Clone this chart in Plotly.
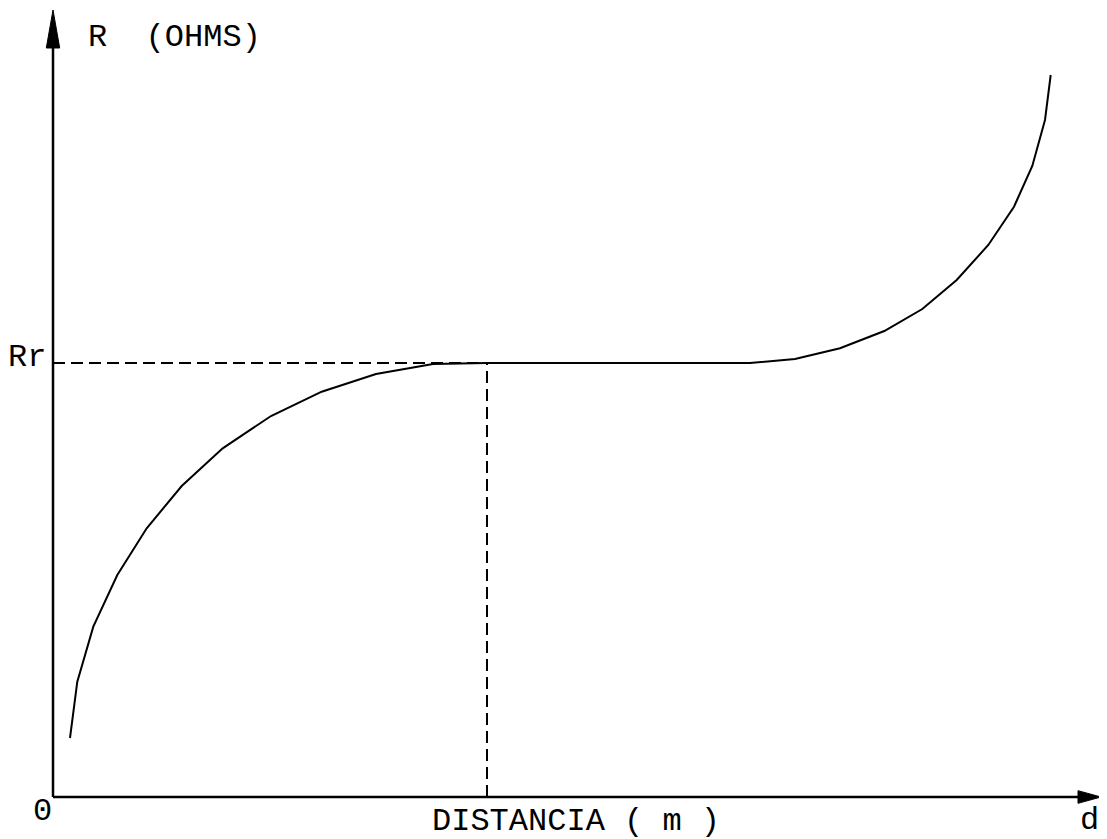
import plotly.graph_objects as go

# ---- data (d in arbitrary distance units, R in arbitrary ohm units) ----
distance = [1.7, 2.43, 4.03, 6.43, 9.37, 12.87, 16.97, 21.8, 26.87, 32.3, 38.0, 43.4,
            69.7, 74.2, 78.7, 83.13, 86.93, 90.37, 93.53, 96.1, 97.93, 99.2, 99.77]
resistance = [5.9, 11.53, 17.03, 22.2, 26.87, 31.1, 34.87, 38.1, 40.53, 42.3, 43.3, 43.4,
              43.4, 43.8, 44.87, 46.6, 48.8, 51.7, 55.2, 59.03, 63.1, 67.7, 72.2]
rr_value = 43.4          # Rr level
rr_distance = 43.4       # distance where the curve reaches Rr

# axis extents
x_axis_end = 102.5
x_arrow_tip = 104.8
y_axis_end = 74.9
y_arrow_tip = 78.7

x_range = [-4.5, 105.4]
y_range = [-4.2, 78.9]

FONT = dict(family="Liberation Mono, DejaVu Sans Mono, monospace", size=32, color="black")

fig = go.Figure()

fig.add_trace(go.Scatter(x=distance, y=resistance, mode="lines",
                         line=dict(color="black", width=2), hoverinfo="skip",
                         showlegend=False))

shapes = [
    # axes
    dict(type="line", x0=0, y0=0, x1=x_axis_end, y1=0, xref="x", yref="y",
         line=dict(color="black", width=2.5)),
    dict(type="line", x0=0, y0=0, x1=0, y1=y_axis_end, xref="x", yref="y",
         line=dict(color="black", width=2.5)),
    # arrow heads
    dict(type="path", xref="x", yref="y",
         path=f"M {-0.67},{y_axis_end} L 0,{y_arrow_tip} L {0.67},{y_axis_end} Z",
         fillcolor="black", line=dict(color="black", width=1)),
    dict(type="path", xref="x", yref="y",
         path=f"M {x_axis_end},{-0.63} L {x_arrow_tip},0 L {x_axis_end},{0.63} Z",
         fillcolor="black", line=dict(color="black", width=1)),
    # dashed guide lines
    dict(type="line", x0=0, y0=rr_value, x1=rr_distance, y1=rr_value, xref="x", yref="y",
         line=dict(color="black", width=2, dash="12px,6px")),
    dict(type="line", x0=rr_distance, y0=0, x1=rr_distance, y1=rr_value, xref="x", yref="y",
         line=dict(color="black", width=2, dash="12px,6px")),
]

annotations = [
    dict(x=3.3, y=76.0, text="R  (OHMS)", xanchor="left", yanchor="middle"),
    dict(x=-0.5, y=44.0, text="Rr", xanchor="right", yanchor="middle"),
    dict(x=0.1, y=-1.4, text="0", xanchor="right", yanchor="middle"),
    dict(x=37.7, y=-2.4, text="DISTANCIA ( m )", xanchor="left", yanchor="middle"),
    dict(x=102.5, y=-2.3, text="d", xanchor="left", yanchor="middle"),
]
for a in annotations:
    a.update(xref="x", yref="y", showarrow=False, font=FONT)

fig.update_layout(
    width=1099, height=831,
    margin=dict(l=0, r=0, t=0, b=0),
    paper_bgcolor="white", plot_bgcolor="white",
    xaxis=dict(range=x_range, visible=False, fixedrange=True),
    yaxis=dict(range=y_range, visible=False, fixedrange=True),
    shapes=shapes, annotations=annotations,
    showlegend=False,
)

fig.write_html("out.html", config={"displayModeBar": False})
